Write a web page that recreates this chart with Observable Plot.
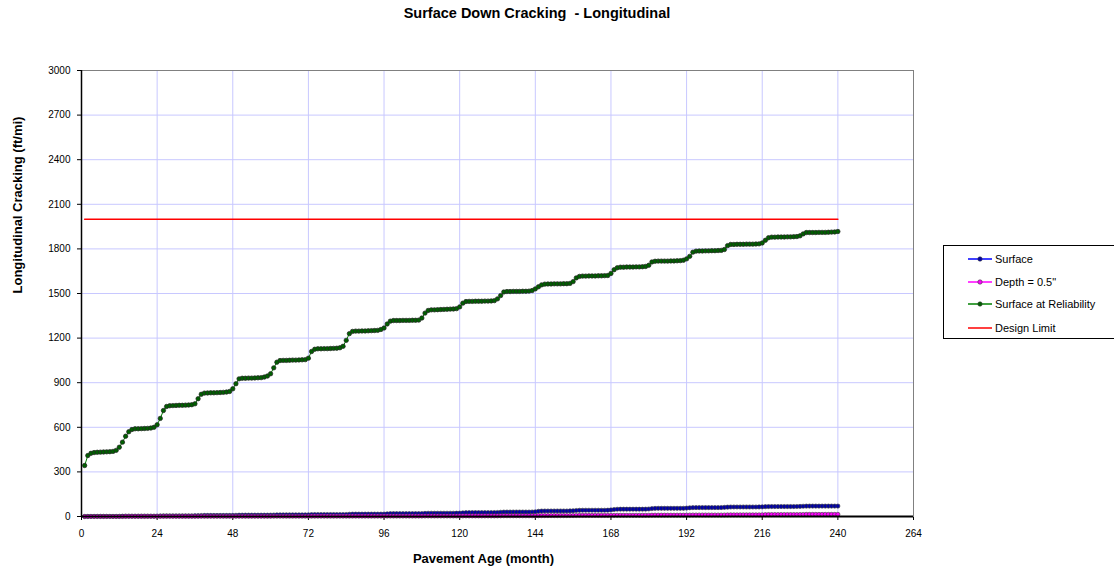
<!DOCTYPE html>
<html><head><meta charset="utf-8">
<script src="https://cdn.jsdelivr.net/npm/d3@7"></script>
<script src="https://cdn.jsdelivr.net/npm/@observablehq/plot@0.6"></script>
<style>
body{margin:0;background:#fff;font-family:"Liberation Sans",Arial,sans-serif;}
#wrap{position:relative;width:1114px;height:569px;overflow:hidden;}
#title{position:absolute;top:5px;left:0;width:1074px;text-align:center;font-weight:bold;font-size:14.5px;white-space:pre;}
#chart{position:absolute;left:0;top:0;}
#legend{position:absolute;left:943px;top:245px;}
</style></head><body>
<div id="wrap"><div id="chart"></div><div id="title"></div><svg id="legend" width="171" height="94"></svg></div>
<script>
const titleText = "Surface Down Cracking  - Longitudinal";
const xLabel = "Pavement Age (month)";
const yLabel = "Longitudinal Cracking (ft/mi)";
const xTicks = [0,24,48,72,96,120,144,168,192,216,240,264];
const yTicks = [0,300,600,900,1200,1500,1800,2100,2400,2700,3000];
const seriesNames = ["Surface","Depth = 0.5\"","Surface at Reliability","Design Limit"];

const months = d3.range(1, 241);

// Surface at Reliability (monthly, one row per year)
const reliability = [
  343,410,425,430,432,433,434,435,436,438,445,466,
  500,540,570,585,590,590,591,592,593,595,600,617,
  660,713,740,745,746,747,748,748,749,750,752,758,
  792,822,830,831,832,832,833,834,835,837,841,859,
  893,926,930,930,931,931,932,933,934,938,945,960,
  1000,1038,1049,1050,1050,1051,1052,1052,1053,1054,1055,1065,
  1110,1125,1128,1128,1129,1129,1130,1131,1132,1135,1145,1185,
  1230,1245,1247,1247,1248,1248,1249,1250,1251,1252,1258,1268,
  1295,1314,1318,1318,1318,1319,1319,1319,1320,1320,1321,1335,
  1368,1386,1390,1390,1391,1392,1393,1394,1395,1396,1398,1410,
  1435,1446,1447,1447,1448,1448,1448,1449,1449,1450,1452,1464,
  1486,1510,1513,1513,1514,1514,1514,1515,1515,1516,1520,1531,
  1545,1558,1563,1564,1564,1565,1565,1565,1566,1566,1568,1580,
  1605,1615,1617,1617,1618,1618,1618,1619,1619,1620,1621,1635,
  1660,1673,1677,1677,1678,1678,1678,1679,1679,1680,1682,1690,
  1712,1717,1718,1718,1718,1718,1719,1719,1720,1721,1724,1733,
  1750,1778,1785,1786,1786,1787,1787,1788,1788,1789,1790,1796,
  1822,1830,1830,1831,1831,1831,1832,1832,1832,1833,1834,1840,
  1858,1875,1879,1879,1880,1880,1880,1881,1881,1882,1883,1888,
  1901,1910,1910,1910,1910,1911,1911,1911,1912,1913,1914,1917
];

// Surface (monthly)
const surface = [
  0,0.5,0.8,1,1,1,1,1,1,1,1,1.2,
  2,2.8,3,3,3,3,3,3,3,3,3,3.2,
  4,4.8,5,5,5,5,5,5,5,5,5,5.3,
  6,6.8,7,7,7,7,7,7,7,7,7,7.3,
  8,8.8,9,9,9,9,9,9,9,9,9,9.3,
  10,10.8,11,11,11,11,11,11,11,11,11,11.4,
  12.5,13,13,13,13,13,13,13,13,13,13.1,13.5,
  15,15.8,16,16,16,16,16,16,16,16,16.1,16.5,
  18,18.8,19,19,19,19,19,19,19,19,19.2,19.6,
  21,21.8,22,22,22,22,22,22,22,22,22.2,22.8,
  24.5,25.6,26,26,26,26,26,26,26,26,26.3,27,
  28.5,29.6,30,30,30,30,30,30,30,30,30.4,31.5,
  35,36.5,37,37,37,37,37,37,37,37,37.4,38.5,
  40.5,41.7,42,42,42,42,42,42,42,42,42.5,44,
  47,48.6,49,49,49,49,49,49,49,49,49.4,50.5,
  53,54.6,55,55,55,55,55,55,55,55,55.3,56.5,
  58.5,59.6,60,60,60,60,60,60,60,60,60.3,61.5,
  63,63.8,64,64,64,64,64,64,64,64,64.2,65,
  66,66.8,67,67,67,67,67,67,67,67,67.2,68,
  69,69.8,70,70,70,70,70,70,70,70,70,70.2
];

// Depth = 0.5" (monthly)
const depth = [
  0,0,0,0,0,0,0,0,0,0,0,0,
  0.1,0.2,0.2,0.2,0.2,0.2,0.2,0.2,0.2,0.2,0.2,0.3,
  0.4,0.5,0.5,0.5,0.5,0.5,0.5,0.5,0.5,0.5,0.5,0.6,
  0.8,1,1,1,1,1,1,1,1,1,1,1.1,
  1.2,1.3,1.3,1.3,1.3,1.3,1.3,1.3,1.3,1.3,1.3,1.4,
  1.6,1.7,1.7,1.7,1.7,1.7,1.7,1.7,1.7,1.7,1.7,1.8,
  1.9,2,2,2,2,2,2,2,2,2,2,2.1,
  2.3,2.5,2.5,2.5,2.5,2.5,2.5,2.5,2.5,2.5,2.5,2.6,
  2.8,3,3,3,3,3,3,3,3,3,3,3.1,
  3.3,3.5,3.5,3.5,3.5,3.5,3.5,3.5,3.5,3.5,3.5,3.6,
  3.8,4,4,4,4,4,4,4,4,4,4,4.2,
  4.6,5,5,5,5,5,5,5,5,5,5,5.2,
  5.6,6,6,6,6,6,6,6,6,6,6,6.2,
  6.6,7,7,7,7,7,7,7,7,7,7,7.2,
  7.6,8,8,8,8,8,8,8,8,8,8,8.2,
  8.6,9,9,9,9,9,9,9,9,9,9,9.2,
  9.6,10,10,10,10,10,10,10,10,10,10,10.2,
  10.6,11,11,11,11,11,11,11,11,11,11,11.3,
  12.2,13,13,13,13,13,13,13,13,13,13,13.2,
  13.6,14,14,14,14,14,14,14,14,14,14,14.2
];

const designLimitValue = 2000;
const designLimitRange = [1, 240];

const colors = {
  surface: {line:"#0000ff", fill:"#0000a8"},
  depth: {line:"#ff00ff", fill:"#ff00ff"},
  rel: {line:"#008000", fill:"#006000"},
  limit: {line:"#ff0000"}
};

const surfaceData = months.map((m,i)=>({m, v:surface[i]}));
const depthData = months.map((m,i)=>({m, v:depth[i]}));
const relData = months.map((m,i)=>({m, v:reliability[i]}));
const limitData = designLimitRange.map(m=>({m, v:designLimitValue}));

const dotStroke = "#3a3a3a";
const chart = Plot.plot({
  width:1114, height:569,
  marginLeft:81, marginRight:201, marginTop:70, marginBottom:53,
  style:{fontFamily:"'Liberation Sans', Arial, sans-serif", fontSize:"10px", color:"#000", background:"transparent"},
  x:{domain:[0,264], ticks:xTicks, tickSize:4, tickPadding:9, label:null, tickFormat:d=>String(d)},
  y:{domain:[0,3000], ticks:yTicks, tickSize:4, tickPadding:7, label:null, tickFormat:d=>String(d)},
  marks:[
    Plot.gridX(xTicks,{stroke:"#c8c8ff", strokeOpacity:1}),
    Plot.gridY(yTicks,{stroke:"#c8c8ff", strokeOpacity:1}),
    Plot.frame({stroke:"#808080"}),
    Plot.line(surfaceData,{x:"m", y:"v", stroke:colors.surface.line, strokeWidth:1}),
    Plot.dot(surfaceData,{x:"m", y:"v", r:2.1, fill:colors.surface.fill, stroke:dotStroke, strokeWidth:0.6}),
    Plot.line(depthData,{x:"m", y:"v", stroke:colors.depth.line, strokeWidth:1}),
    Plot.dot(depthData,{x:"m", y:"v", r:2.1, fill:colors.depth.fill, stroke:dotStroke, strokeWidth:0.6}),
    Plot.line(relData,{x:"m", y:"v", stroke:colors.rel.line, strokeWidth:1}),
    Plot.dot(relData,{x:"m", y:"v", r:2.2, fill:colors.rel.fill, stroke:"#222", strokeWidth:0.7}),
    Plot.line(limitData,{x:"m", y:"v", stroke:colors.limit.line, strokeWidth:1.5}),
    Plot.ruleX([0],{stroke:"#000", strokeWidth:1.5}),
    Plot.ruleY([0],{stroke:"#000", strokeWidth:2}),
    Plot.text([xLabel],{frameAnchor:"bottom", dy:46, dx:-14, fontWeight:"bold", fontSize:13}),
    Plot.text([yLabel],{frameAnchor:"left", dx:-64, rotate:-90, fontWeight:"bold", fontSize:13})
  ]
});
document.getElementById("chart").appendChild(chart);
document.getElementById("title").textContent = titleText;

// Legend
const lg = d3.select("#legend");
lg.append("rect").attr("x",0.5).attr("y",0.5).attr("width",180).attr("height",93)
  .attr("fill","#fff").attr("stroke","#000").attr("stroke-width",1);
const legendItems = [
  {name:seriesNames[0], line:colors.surface.line, fill:colors.surface.fill, marker:true},
  {name:seriesNames[1], line:colors.depth.line, fill:colors.depth.fill, marker:true},
  {name:seriesNames[2], line:colors.rel.line, fill:colors.rel.fill, marker:true},
  {name:seriesNames[3], line:colors.limit.line, marker:false}
];
const rowY = [14, 37, 59, 83];
legendItems.forEach((it,i)=>{
  const y = rowY[i];
  lg.append("line").attr("x1",25).attr("x2",49).attr("y1",y).attr("y2",y)
    .attr("stroke",it.line).attr("stroke-width",1.5);
  if (it.marker) lg.append("circle").attr("cx",37).attr("cy",y).attr("r",2.2)
    .attr("fill",it.fill).attr("stroke",dotStroke).attr("stroke-width",0.6);
  lg.append("text").attr("x",52).attr("y",y+4).attr("font-size",11)
    .attr("font-family","'Liberation Sans', Arial, sans-serif").text(it.name);
});
</script>
</body></html>
